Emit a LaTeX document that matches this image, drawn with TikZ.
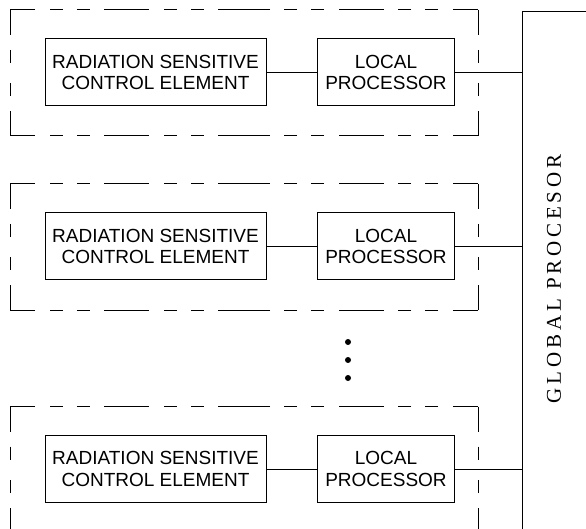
\documentclass[tikz,border=0pt]{standalone}
\usepackage{fontspec}
\usetikzlibrary{calc}
\setmainfont{Liberation Sans}
\newfontfamily\busfont[LetterSpace=18]{Liberation Serif}
\begin{document}
\begin{tikzpicture}[x=1pt,y=-1pt,
  block/.style={draw,line width=1pt,align=center,inner sep=0pt,
    minimum height=67pt,font=\fontsize{19}{21.5}\selectfont},
  group/.style={line width=1pt,
    dash pattern=on 45pt off 15pt on 13pt off 14pt on 13pt off 14pt,dash phase=20pt},
  wire/.style={line width=1pt}]
  \useasboundingbox (0,0) rectangle (586,529);
  \clip (0,0) rectangle (586,529);

  % global processor bus
  \coordinate (bus) at (522,12);
  \coordinate (bustop) at (590,12);
  \coordinate (busbot) at (522,535);
  \draw[wire] (bustop) -- (bus) -- (busbot);
  \node[rotate=90,font=\busfont\fontsize{21}{21}\selectfont] (gp) at (554,279) {GLOBAL PROCESOR};

  % one sensing unit per row
  \foreach \r/\y in {1/72.5, 2/246.5, 3/469}{
    % dashed enclosure: every side is dashed outwards-in from both corners
    \coordinate (tl\r) at (10,\y-62.5);
    \coordinate (tr\r) at (478,\y-62.5);
    \coordinate (br\r) at (478,\y+63.5);
    \coordinate (bl\r) at (10,\y+63.5);
    \foreach \a/\b in {tl/tr, tr/br, br/bl, bl/tl}{
      \draw[group] (\a\r) -- ($(\a\r)!0.5!(\b\r)$);
      \draw[group] (\b\r) -- ($(\a\r)!0.5!(\b\r)$);
    }
    \node[block,minimum width=221pt] (rsce\r) at (155.5,\y)
      {RADIATION SENSITIVE\\CONTROL ELEMENT};
    \node[block,minimum width=137pt] (lp\r) at (386,\y)
      {LOCAL\\PROCESSOR};
    \draw[wire] (rsce\r) -- (lp\r);
    \draw[wire] (lp\r.east) -- (lp\r.east -| bus);
  }

  % ellipsis between rows
  \foreach \d/\y in {a/342, b/360, c/378}
    \fill (348,\y) circle (3pt) coordinate (dot\d);
\end{tikzpicture}
\end{document}
